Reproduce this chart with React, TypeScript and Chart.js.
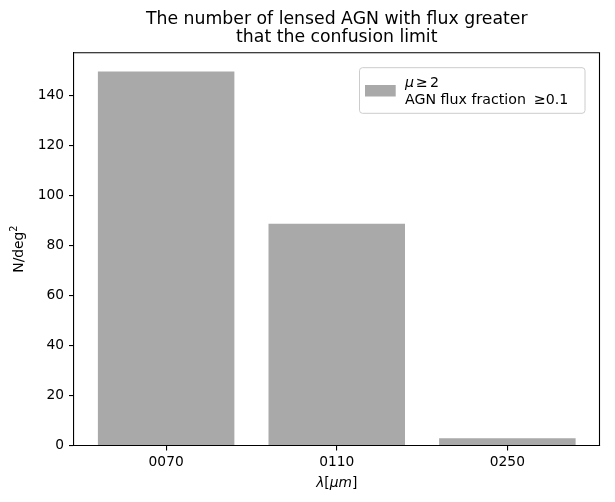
import React, { useEffect, useRef } from "react";
import { Chart, registerables } from "chart.js";

Chart.register(...registerables);

const categories = ["0070", "0110", "0250"];
const positions = [0, 1, 2];
const values = [149.7, 88.7, 2.9];
const yTicks = [0, 20, 40, 60, 80, 100, 120, 140];
const titleLines = ["The number of lensed AGN with flux greater", "that the confusion limit"];
const barColor = "#a9a9a9";
const FONT = "'DejaVu Sans', sans-serif";

export default function App() {
  const ref = useRef<HTMLCanvasElement | null>(null);
  useEffect(() => {
    document.body.style.margin = "0";
    const canvas = ref.current!;
    const yMax = Math.max(...values) * 1.05;
    const xMin = -0.4 - 0.05 * 2.8;
    const xMax = 2.4 + 0.05 * 2.8;

    const decor = {
      id: "decor",
      afterDraw(chart: any) {
        const { ctx, chartArea } = chart;
        const { left, right, top, bottom } = chartArea;
        const cx = (left + right) / 2;
        ctx.save();
        ctx.strokeStyle = "#000";
        ctx.lineWidth = 1.1;
        ctx.beginPath();
        ctx.moveTo(left, top);
        ctx.lineTo(right, top);
        ctx.lineTo(right, bottom);
        ctx.stroke();

        ctx.fillStyle = "#000";
        ctx.textAlign = "center";
        ctx.textBaseline = "alphabetic";
        ctx.font = `17.3px ${FONT}`;
        ctx.fillText(titleLines[0], cx, 24);
        ctx.fillText(titleLines[1], cx, 42);

        const parts: [string, boolean][] = [["λ", true], ["[", false], ["μm", true], ["]", false]];
        const fs = 13.8;
        let total = 0;
        for (const [t, it] of parts) {
          ctx.font = `${it ? "italic " : ""}${fs}px ${FONT}`;
          total += ctx.measureText(t).width;
        }
        let x = cx - total / 2;
        ctx.textAlign = "left";
        for (const [t, it] of parts) {
          ctx.font = `${it ? "italic " : ""}${fs}px ${FONT}`;
          ctx.fillText(t, x, 487);
          x += ctx.measureText(t).width;
        }

        ctx.save();
        const cy = (top + bottom) / 2;
        ctx.translate(23, cy);
        ctx.rotate(-Math.PI / 2);
        ctx.font = `${fs}px ${FONT}`;
        const w1 = ctx.measureText("N/deg").width;
        ctx.font = `${fs * 0.7}px ${FONT}`;
        const w2 = ctx.measureText("2").width;
        const start = -(w1 + w2) / 2;
        ctx.font = `${fs}px ${FONT}`;
        ctx.fillText("N/deg", start, 0);
        ctx.font = `${fs * 0.7}px ${FONT}`;
        ctx.fillText("2", start + w1, -6);
        ctx.restore();

        const lx = 359.5, ly = 67.7, lw = 225.5, lh = 45.6, r = 3;
        ctx.beginPath();
        ctx.moveTo(lx + r, ly);
        ctx.lineTo(lx + lw - r, ly);
        ctx.quadraticCurveTo(lx + lw, ly, lx + lw, ly + r);
        ctx.lineTo(lx + lw, ly + lh - r);
        ctx.quadraticCurveTo(lx + lw, ly + lh, lx + lw - r, ly + lh);
        ctx.lineTo(lx + r, ly + lh);
        ctx.quadraticCurveTo(lx, ly + lh, lx, ly + lh - r);
        ctx.lineTo(lx, ly + r);
        ctx.quadraticCurveTo(lx, ly, lx + r, ly);
        ctx.closePath();
        ctx.fillStyle = "rgba(255,255,255,0.8)";
        ctx.fill();
        ctx.strokeStyle = "#cccccc";
        ctx.lineWidth = 1;
        ctx.stroke();

        ctx.fillStyle = barColor;
        ctx.fillRect(365, 85, 30.7, 11.5);

        const lfs = 14.2;
        ctx.fillStyle = "#000";
        ctx.font = `italic ${lfs}px ${FONT}`;
        ctx.fillText("μ", 405, 86.7);
        const mw = ctx.measureText("μ").width;
        ctx.font = `${lfs}px ${FONT}`;
        ctx.fillText("≥", 405 + mw + 2, 86.7);
        const gw = ctx.measureText("≥").width;
        ctx.fillText("2", 405 + mw + gw + 4, 86.7);
        const line2 = "AGN flux fraction";
        ctx.fillText(line2, 405, 104.3);
        const l2w = ctx.measureText(line2).width;
        ctx.fillText("≥0.1", 405 + l2w + 8, 104.3);
        ctx.restore();
      },
    };

    const chart = new Chart(canvas, {
      type: "bar",
      data: {
        datasets: [
          {
            data: positions.map((p, i) => ({ x: p, y: values[i] })),
            backgroundColor: barColor,
            borderWidth: 0,
            barPercentage: 0.8,
            categoryPercentage: 1,
          },
        ],
      },
      options: {
        responsive: false,
        animation: false,
        devicePixelRatio: 1,
        layout: { padding: { top: 52.7, right: 15.5, left: 0, bottom: 0 } },
        plugins: { legend: { display: false }, tooltip: { enabled: false }, title: { display: false } },
        scales: {
          x: {
            type: "linear",
            min: xMin,
            max: xMax,
            offset: false,
            grid: { display: true, offset: false, drawOnChartArea: false, drawTicks: true, tickLength: 5, tickColor: "#000", lineWidth: 1.1 },
            border: { display: true, color: "#000", width: 1.1 },
            afterBuildTicks: (scale: any) => {
              scale.ticks = positions.map((v) => ({ value: v }));
            },
            afterFit: (scale: any) => {
              scale.height = 56.5;
            },
            ticks: {
              color: "#000",
              padding: 4,
              maxRotation: 0,
              font: { family: FONT, size: 13.8 },
              callback: (v: any) => categories[positions.indexOf(Number(v))] ?? "",
            },
          },
          y: {
            type: "linear",
            min: 0,
            max: yMax,
            grid: { display: true, drawOnChartArea: false, drawTicks: true, tickLength: 5, tickColor: "#000", lineWidth: 1.1 },
            border: { display: true, color: "#000", width: 1.1 },
            afterBuildTicks: (scale: any) => {
              scale.ticks = yTicks.map((v) => ({ value: v }));
            },
            afterFit: (scale: any) => {
              scale.width = 74;
            },
            ticks: {
              color: "#000",
              padding: 5,
              font: { family: FONT, size: 13.8 },
              callback: (v: any) => String(v),
            },
          },
        },
      },
      plugins: [decor],
    });
    return () => chart.destroy();
  }, []);
  return (
    <div style={{ width: 615, height: 502 }}>
      <canvas ref={ref} width={615} height={502} style={{ display: "block" }} />
    </div>
  );
}
